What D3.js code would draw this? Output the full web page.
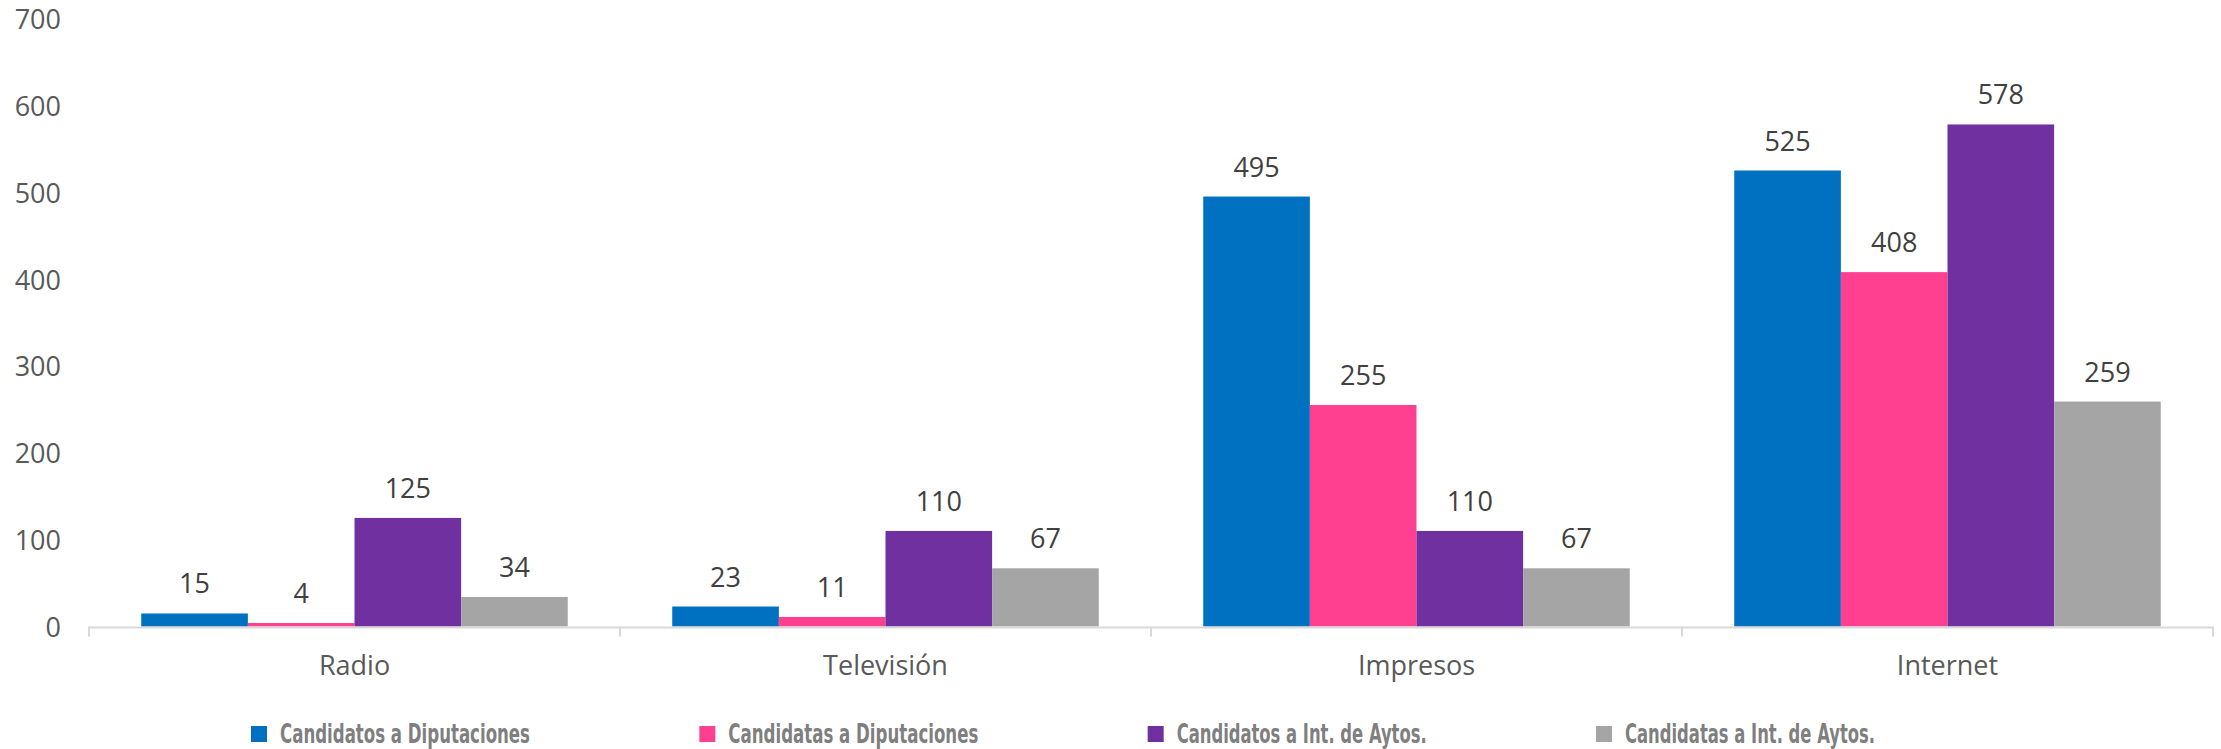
<!DOCTYPE html>
<html>
<head>
<meta charset="utf-8">
<script src="https://cdn.jsdelivr.net/npm/d3@7"></script>
<style>
  html, body { margin: 0; padding: 0; background: #fff; }
  svg { display: block; }
</style>
</head>
<body>
<svg id="chart" width="2221" height="749"></svg>
<script>
const categories = ["Radio", "Televisión", "Impresos", "Internet"];
const seriesNames = ["Candidatos a Diputaciones", "Candidatas a Diputaciones", "Candidatos a Int. de Aytos.", "Candidatas a Int. de Aytos."];
const candidatosDiputaciones = [15, 23, 495, 525];
const candidatasDiputaciones = [4, 11, 255, 408];
const candidatosAytos = [125, 110, 110, 578];
const candidatasAytos = [34, 67, 67, 259];
const yTicks = [0, 100, 200, 300, 400, 500, 600, 700];
const colors = ["#0070C0", "#FF3F8F", "#7030A0", "#A5A5A5"];

(function () {
const seriesValues = [candidatosDiputaciones, candidatasDiputaciones, candidatosAytos, candidatasAytos];

const svg = d3.select("#chart");
const plotLeft = 89, plotRight = 2213, plotTop = 18.5, plotBottom = 626.5;

const x = d3.scaleBand().domain(categories).range([plotLeft, plotRight]).paddingInner(0).paddingOuter(0);
const xs = d3.scaleBand().domain(seriesNames).range([0, x.bandwidth()]).paddingInner(0).paddingOuter(0.49);
const y = d3.scaleLinear().domain([0, 700]).range([plotBottom, plotTop]);

const numFont = "'Open Sans', 'Noto Sans', sans-serif";

// y tick labels
svg.append("g").selectAll("text").data(yTicks).join("text")
  .attr("x", 61).attr("y", d => y(d))
  .attr("text-anchor", "end").attr("dominant-baseline", "central")
  .attr("font-family", numFont).attr("font-size", 27).attr("fill", "#595959")
  .text(d => d);

// bars
const groups = svg.append("g").selectAll("g").data(seriesNames).join("g")
  .attr("fill", (d, i) => colors[i]);

groups.each(function (name, si) {
  const g = d3.select(this);
  const vals = seriesValues[si];
  g.selectAll("rect").data(categories).join("rect")
    .attr("x", c => x(c) + xs(name))
    .attr("width", xs.bandwidth())
    .attr("y", (c, ci) => y(vals[ci]))
    .attr("height", (c, ci) => y(0) - y(vals[ci]));
  g.selectAll("text").data(categories).join("text")
    .attr("x", c => x(c) + xs(name) + xs.bandwidth() / 2)
    .attr("y", (c, ci) => y(vals[ci]) - 20)
    .attr("text-anchor", "middle")
    .attr("font-family", numFont).attr("font-size", 27).attr("fill", "#404040")
    .text((c, ci) => vals[ci]);
});

// x axis line
svg.append("line")
  .attr("x1", plotLeft).attr("x2", plotRight).attr("y1", y(0) + 1).attr("y2", y(0) + 1)
  .attr("stroke", "#D9D9D9").attr("stroke-width", 2);

// ticks at band boundaries
const tickPos = categories.map(c => x(c)).concat([x.range()[1]]);
svg.append("g").selectAll("line").data(tickPos).join("line")
  .attr("x1", d => d).attr("x2", d => d)
  .attr("y1", y(0)).attr("y2", y(0) + 10)
  .attr("stroke", "#D9D9D9").attr("stroke-width", 2);

// category labels
svg.append("g").selectAll("text").data(categories).join("text")
  .attr("x", c => x(c) + x.bandwidth() / 2)
  .attr("y", 675)
  .attr("text-anchor", "middle")
  .attr("font-family", numFont).attr("font-size", 27).attr("fill", "#595959")
  .text(c => c);

// legend
const legFont = "'Liberation Sans Narrow', 'DejaVu Sans Condensed', sans-serif";
const legStart = 251, legEnd = 1875, sq = 16, sqGap = 13, textW = 250;
const itemW = sq + sqGap + textW;
const legGap = (legEnd - legStart - seriesNames.length * itemW) / (seriesNames.length - 1);
const leg = svg.append("g").selectAll("g").data(seriesNames).join("g")
  .attr("transform", (d, i) => `translate(${legStart + i * (itemW + legGap)},0)`);
leg.append("rect").attr("x", 0).attr("y", 726).attr("width", sq).attr("height", sq)
  .attr("fill", (d, i) => colors[i]);
leg.append("text").attr("x", sq + sqGap).attr("y", 743)
  .attr("font-family", legFont).attr("font-weight", "bold").attr("font-size", 27)
  .attr("fill", "#7F7F7F")
  .attr("textLength", textW).attr("lengthAdjust", "spacingAndGlyphs")
  .text(d => d);
})();
</script>
</body>
</html>
